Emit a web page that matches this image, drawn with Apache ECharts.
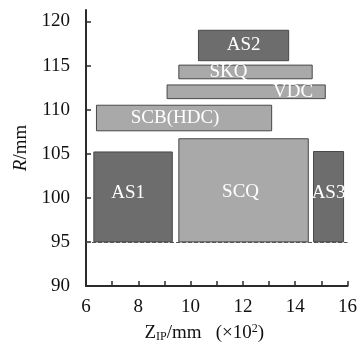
<!DOCTYPE html>
<html>
<head>
<meta charset="utf-8">
<script src="https://cdn.jsdelivr.net/npm/echarts@6/dist/echarts.min.js"></script>
<style>
html,body{margin:0;padding:0;background:#fff;}
#chart{width:360px;height:349px;}
</style>
</head>
<body>
<div id="chart"></div>
<script>
// ---- data ----
const names  = ['AS1', 'SCQ', 'AS3', 'SCB(HDC)', 'VDC', 'SKQ', 'AS2'];
const zStart = [6.3, 9.55, 14.7, 6.4, 9.1, 9.55, 10.3];
const zEnd   = [9.3, 14.5, 15.85, 13.1, 15.15, 14.65, 13.75];
const rLow   = [95, 95, 95, 107.6, 111.25, 113.5, 115.55];
const rHigh  = [105.2, 106.7, 105.25, 110.5, 112.8, 115.05, 119.0];
const kinds  = ['dark', 'light', 'dark', 'light', 'light', 'light', 'dark'];
const xTicks = [6, 7, 8, 9, 10, 11, 12, 13, 14, 15, 16];
const xLabels = [6, 8, 10, 12, 14, 16];
const yTicks = [90, 95, 100, 105, 110, 115, 120];
const baseline = 95;

// ---- styles ----
const fillOf = {dark: '#6d6d6d', light: '#a9a9a9'};
const labelOffsets = [[-5, -4], [-3, 2], [0, -4], [-9, 0], [47, 0], [-17, 0], [0, 0]];
const serif = '"Liberation Serif", "Times New Roman", serif';

const data = names.map((n, i) => [zStart[i], zEnd[i], rLow[i], rHigh[i], i]);

const chart = echarts.init(document.getElementById('chart'), null, {renderer: 'canvas'});
chart.setOption({
  animation: false,
  grid: {left: 86, right: 9, top: 10, bottom: 63},
  xAxis: {
    type: 'value', min: 6, max: 16,
    axisLine: {lineStyle: {color: '#2b2b2b', width: 2}},
    axisTick: {inside: true, length: 5, customValues: xTicks, lineStyle: {color: '#2b2b2b', width: 1.5}},
    axisLabel: {customValues: xLabels, color: '#111', fontFamily: serif, fontSize: 19, margin: 12},
    splitLine: {show: false},
    name: '{z|Z}{sub|IP}{t|/mm   (×10}{sup|2}{t|)}',
    nameLocation: 'middle', nameGap: 37,
    nameTextStyle: {
      padding: [0, 25, 0, 0],
      rich: {
        z: {fontFamily: serif, fontSize: 19, color: '#111', verticalAlign: 'middle'},
        t: {fontFamily: serif, fontSize: 19, color: '#111', verticalAlign: 'middle'},
        sub: {fontFamily: serif, fontSize: 12, color: '#111', verticalAlign: 'bottom', padding: [8, 0, 0, 0]},
        sup: {fontFamily: serif, fontSize: 12, color: '#111', verticalAlign: 'top', padding: [0, 0, 8, 0]}
      }
    }
  },
  yAxis: {
    type: 'value', min: 90, max: 121.3,
    axisLine: {show: true, lineStyle: {color: '#2b2b2b', width: 2}},
    axisTick: {show: true, inside: true, length: 5, customValues: yTicks, lineStyle: {color: '#2b2b2b', width: 1.5}},
    axisLabel: {customValues: yTicks, color: '#111', fontFamily: serif, fontSize: 19, margin: 16},
    splitLine: {show: false},
    name: '{i|R}{t|/mm}',
    nameLocation: 'middle', nameGap: 54, nameRotate: 90,
    nameTextStyle: {
      rich: {
        i: {fontFamily: serif, fontSize: 19, fontStyle: 'italic', color: '#111'},
        t: {fontFamily: serif, fontSize: 19, color: '#111'}
      }
    }
  },
  series: [{
    type: 'custom',
    data: data,
    encode: {x: [0, 1], y: [2, 3]},
    renderItem: function (params, api) {
      const i = api.value(4);
      const p0 = api.coord([api.value(0), api.value(3)]);
      const p1 = api.coord([api.value(1), api.value(2)]);
      return {
        type: 'rect',
        shape: {x: p0[0], y: p0[1], width: p1[0] - p0[0], height: p1[1] - p0[1]},
        style: {fill: fillOf[kinds[i]], stroke: '#484848', lineWidth: 1},
        textContent: {
          style: {text: names[i], fill: '#ffffff', fontFamily: serif, fontSize: 19}
        },
        textConfig: {position: 'inside', offset: labelOffsets[i]}
      };
    },
    markLine: {
      silent: true, symbol: 'none',
      label: {show: false},
      lineStyle: {type: [4, 2], color: '#555', width: 1},
      data: [{yAxis: baseline}]
    },
    z: 2
  }]
});
</script>
</body>
</html>
